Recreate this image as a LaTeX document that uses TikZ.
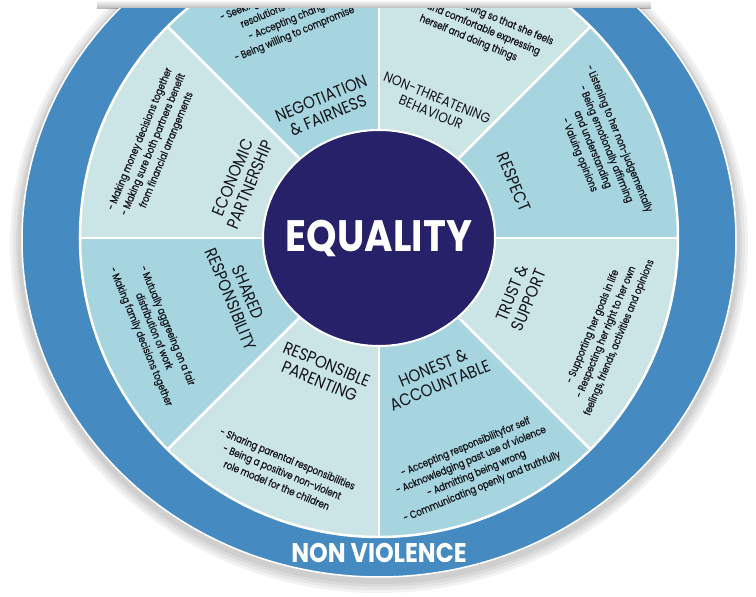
\documentclass[tikz,border=0pt]{standalone}
\usepackage{fontspec}
\setmainfont{Poppins}
\newfontfamily\titlefont{Poppins}[FakeStretch=0.88]
\newfontfamily\bodyfont{Poppins}[FakeStretch=0.82, FakeBold=0.7]
\usepackage{xcolor}
\definecolor{ringblue}{RGB}{70,138,194}
\definecolor{segdark}{RGB}{166,213,224}
\definecolor{seglight}{RGB}{203,229,231}
\definecolor{navy}{RGB}{38,33,104}
\definecolor{inktext}{RGB}{20,20,25}

\begin{document}
\begin{tikzpicture}[x=1pt, y=1pt,
  segtitle/.style={font=\titlefont\fontsize{17}{18.5}\selectfont, text=inktext, align=center, inner sep=0pt},
  segtext/.style={font=\bodyfont\fontsize{10.5}{14.3}\selectfont, text=inktext, align=center, inner sep=0pt},
  seam/.style={white, line width=2.5pt},
  bigword/.style={font=\titlefont\bfseries, text=white, inner sep=0pt}
]
  \useasboundingbox (-379,-359) rectangle (377,238);

  % top edge shadow
  \fill[top color=white, bottom color=black!30] (-282,229) rectangle (272,238);

  \begin{scope}
  \clip (-379,-359) rectangle (377,229);

  % soft shadow round the wheel
  \fill[black, opacity=0.05] (0,-6) ellipse [x radius=369, y radius=349];
  \fill[black, opacity=0.05] (0,-6) ellipse [x radius=366, y radius=346];
  \fill[black, opacity=0.05] (0,-6) ellipse [x radius=363, y radius=343];
  \fill[black, opacity=0.05] (0,-5) ellipse [x radius=361, y radius=341];

  % outer ring
  \fill[ringblue] (0,-2) ellipse [x radius=357, y radius=337];
  \draw[white, line width=1.5pt] (0,-2) ellipse [x radius=357, y radius=337];

  % segments
  \fill[seglight] (0,0) circle [radius=299];
  \fill[segdark] (0,0) -- (90:299) arc[start angle=90, end angle=135, radius=299] -- cycle;
  \fill[segdark] (0,0) -- (0:299) arc[start angle=0, end angle=45, radius=299] -- cycle;
  \fill[segdark] (0,0) -- (-90:299) arc[start angle=-90, end angle=-45, radius=299] -- cycle;
  \fill[segdark] (0,0) -- (180:299) arc[start angle=180, end angle=225, radius=299] -- cycle;
  \draw[seam] (0,0) circle [radius=299];
  \draw[seam] (90:299) -- (270:299);
  \draw[seam] (0:299) -- (180:299);
  \draw[seam] (45:299) -- (225:299);
  \draw[seam] (135:299) -- (315:299);

  % centre
  \draw[fill=navy, draw=white, line width=2pt] (0,0) ellipse [x radius=116, y radius=108];
  \node[bigword, font=\titlefont\bfseries\fontsize{44}{44}\selectfont] (equality) at (0,0) {EQUALITY};

  % segment titles
  \node[segtitle, rotate=22.5] (negotiation) at (112.5:142) {NEGOTIATION\\\& FAIRNESS};
  \node[segtitle, rotate=-22.5, font=\titlefont\fontsize{14}{16}\selectfont] (nonthreat) at (67.5:144) {NON-THREATENING\\BEHAVIOUR};
  \node[segtitle, rotate=-67.5] (respect) at (22.5:146) {RESPECT};
  \node[segtitle, rotate=67.5] (trust) at (-22.5:153) {TRUST \&\\SUPPORT};
  \node[segtitle, rotate=22.5] (honest) at (-67.5:150) {HONEST \&\\ACCOUNTABLE};
  \node[segtitle, rotate=-22.5] (parenting) at (-112.5:146) {RESPONSIBLE\\PARENTING};
  \node[segtitle, rotate=-67.5] (shared) at (-157.5:151) {SHARED\\RESPONSIBILITY};
  \node[segtitle, rotate=67.5] (economic) at (157.5:149) {ECONOMIC\\PARTNERSHIP};

  % segment texts
  \node[segtext, rotate=22.5] (negotiationtext) at (112.5:242) {- Seeking mutually satisfying\\resolutions to conflict\\- Accepting change\\- Being willing to compromise};
  \node[segtext, rotate=-22.5] (nonthreattext) at (66:233) {- Talking and acting so that she feels\\safe and comfortable expressing\\herself and doing things};
  \node[segtext, rotate=-67.5] (respecttext) at (22.5:238) {- Listening to her non-judgementally\\- Being emotionally affirming\\and understanding\\- Valuing opinions};
  \node[segtext, rotate=67.5] (trusttext) at (-22.5:246) {- Supporting her goals in life\\- Respecting her right to her own\\feelings, friends, activities and opinions};
  \node[segtext, rotate=22.5] (honesttext) at (-67.5:248) {- Accepting responsibilityfor self\\- Acknowledging past use of violence\\- Admitting being wrong\\- Communicating openly and truthfully};
  \node[segtext, rotate=-22.5] (parentingtext) at (-112.5:253) {- Sharing parental responsibilities\\- Being a positive non-violent\\role model for the children};
  \node[segtext, rotate=-67.5] (sharedtext) at (-157.5:244) {- Mutually aggreeing on a fair\\distribution of work\\- Making family decisions together};
  \node[segtext, rotate=67.5] (economictext) at (157.5:244) {- Making money decisions together\\- Making sure both partners benefit\\from financial arrangements};

  % ring label
  \node[bigword, font=\titlefont\bfseries\fontsize{27}{27}\selectfont] (nonviolence) at (0,-315) {NON VIOLENCE};
  \end{scope}
\end{tikzpicture}
\end{document}
